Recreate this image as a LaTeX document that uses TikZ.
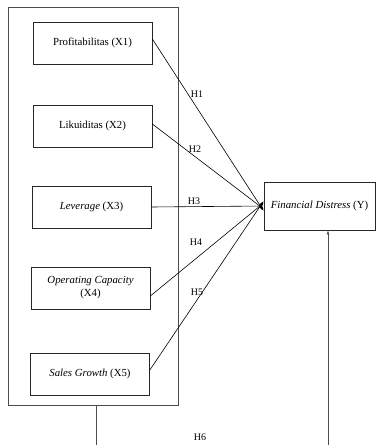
\documentclass[tikz,border=0pt]{standalone}
\usepackage{fontspec}
\setmainfont{Liberation Serif}
\usetikzlibrary{arrows.meta}
\begin{document}
\begin{tikzpicture}[x=1pt,y=-1pt,
  varbox/.style={draw=black!85,line width=0.7pt,minimum width=119pt,minimum height=42pt,align=center,inner sep=1pt,font=\fontsize{10.8}{13}\selectfont},
  conn/.style={draw=black,line width=0.6pt,-{Latex[length=4pt,width=3pt]}},
  hlab/.style={font=\fontsize{10}{12}\selectfont,inner sep=0pt}]
\useasboundingbox (0,0) rectangle (376,445);
\node[draw=black!70,line width=0.8pt,minimum width=170pt,minimum height=398pt,inner sep=0pt] (outer) at (93,206) {};
\node[varbox] (x1) at (92.5,43) {Profitabilitas (X1)};
\node[varbox] (x2) at (92.5,126) {Likuiditas (X2)};
\node[varbox] (x3) at (91.5,207) {\textit{Leverage} (X3)};
\node[varbox] (x4) at (90.5,288) {\textit{Operating Capacity}\\(X4)};
\node[varbox] (x5) at (90,374) {\textit{Sales Growth} (X5)};
\node[draw=black!85,line width=0.7pt,minimum width=111pt,minimum height=48pt,inner sep=1pt,font=\fontsize{10.8}{13}\selectfont] (fd) at (319.5,206) {\textit{Financial Distress} (Y)};
\coordinate (e1) at ([yshift=-5pt]fd.west);
\coordinate (e2) at ([yshift=-3pt]fd.west);
\coordinate (e3) at (fd.west);
\coordinate (e4) at ([yshift=3pt]fd.west);
\coordinate (e5) at ([yshift=5pt]fd.west);
\draw[conn] ([yshift=4pt]x1.east) -- (e1);
\draw[conn] ([yshift=2pt]x2.east) -- (e2);
\draw[conn] (x3.east) -- (e3);
\draw[conn] ([yshift=-8pt]x4.east) -- (e4);
\draw[conn] ([yshift=4pt]x5.east) -- (e5);
\node[hlab] (h1) at (197,94) {H1};
\node[hlab] (h2) at (195,149) {H2};
\node[hlab] (h3) at (194,201) {H3};
\node[hlab] (h4) at (196,242) {H4};
\node[hlab] (h5) at (197,292) {H5};
\node[hlab] (h6) at (200,437) {H6};
\coordinate (b1) at (96,445);
\coordinate (b2) at (328,445);
\draw[draw=black!70,line width=0.8pt] (outer.south -| b1) -- (b1);
\draw[conn,draw=black!70] (b2) -- (b2 |- fd.south);
\end{tikzpicture}
\end{document}
